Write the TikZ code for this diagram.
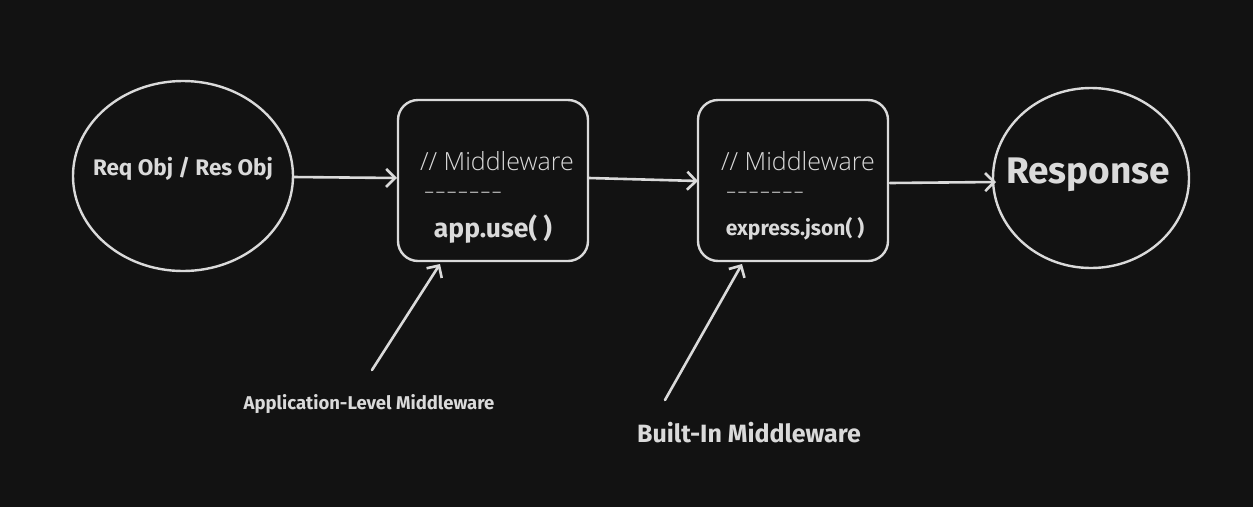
\documentclass[tikz,border=0pt]{standalone}
\usepackage{fontspec}
\setmainfont{Fira Sans}
\newfontfamily\handfont{Open Sans Light}
\usetikzlibrary{arrows.meta}
\definecolor{bg}{HTML}{121212}
\definecolor{ink}{HTML}{DADADA}
\begin{document}
\begin{tikzpicture}[x=1pt,y=-1pt,
  line width=2.6pt, color=ink, draw=ink, text=ink,
  conn/.style={draw=ink, line width=2.6pt, line cap=round,
    -{Straight Barb[length=9pt,width=18pt,line width=2.6pt]}},
  boxnode/.style={draw=ink, rounded corners=20pt, line width=2.4pt},
  hand/.style={font=\handfont\fontsize{25}{28}\selectfont},
  dashlbl/.style={font=\handfont\fontsize{25}{28}\selectfont, xscale=1.4}
]
\fill[bg] (0,0) rectangle (1253,507);
\useasboundingbox (0,0) rectangle (1253,507);
% shapes
\draw[line width=2.4pt] (183,176) ellipse [x radius=110, y radius=95];
\coordinate (c1e) at (293,177);
\draw[boxnode] (398,100) rectangle (588,261);
\draw[boxnode] (698,100) rectangle (888,261);
\draw[line width=2.4pt] (1091,178) ellipse [x radius=98, y radius=90];
\coordinate (b1w) at (397,178);
\coordinate (b1e) at (589,178);
\coordinate (b2w) at (698,181);
\coordinate (b2e) at (890,183);
\coordinate (c2w) at (996,182);
\coordinate (b1s) at (440,264);
\coordinate (b2s) at (742,264);
\coordinate (a1) at (372,370);
\coordinate (a2) at (665,400);
% texts
\node[font=\bfseries\fontsize{22.5}{26}\selectfont] (t1) at (183,169) {Req Obj / Res Obj};
\node[hand] (m1) at (497,161) {// Middleware};
\node[dashlbl] (d1) at (463,196) {-------};
\node[font=\bfseries\fontsize{26.5}{30}\selectfont] (u1) at (493,229) {app.use( )};
\node[hand] (m2) at (798,161) {// Middleware};
\node[dashlbl] (d2) at (765,196) {-------};
\node[font=\bfseries\fontsize{21}{25}\selectfont] (u2) at (795,229) {express.json( )};
\node[font=\bfseries\fontsize{37}{41}\selectfont] (r) at (1088,175) {Response};
\node[font=\bfseries\fontsize{18.5}{22}\selectfont] (l1) at (369,404) {Application-Level Middleware};
\node[font=\bfseries\fontsize{25}{29}\selectfont] (l2) at (749,433) {Built-In Middleware};
% connectors
\draw[conn] (c1e) -- (b1w);
\draw[conn] (b1e) -- (b2w);
\draw[conn] (b2e) -- (c2w);
\draw[conn] (a1) -- (b1s);
\draw[conn] (a2) -- (b2s);
\end{tikzpicture}
\end{document}
